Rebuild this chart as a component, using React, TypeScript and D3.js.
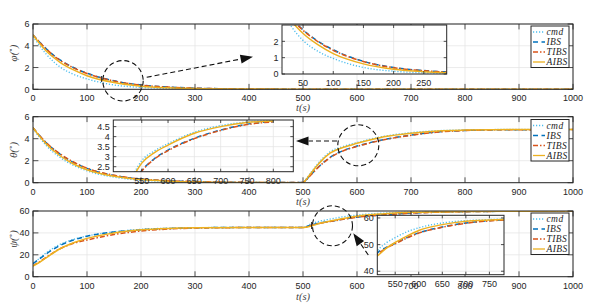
import * as d3 from 'd3';

// time samples and series
const tPhi = [0, 10, 25, 40, 50, 75, 100, 150, 200, 250, 300, 400, 500, 600, 1000];
const phiCmd = [4.85, 4.15, 3.2, 2.45, 2.05, 1.38, 0.95, 0.4, 0.17, 0.08, 0.04, 0.01, 0, 0, 0];
const phiIBS = [5, 4.45, 3.7, 3.05, 2.7, 2.0, 1.48, 0.78, 0.4, 0.21, 0.11, 0.03, 0.01, 0, 0];
const phiTIBS = [5, 4.45, 3.68, 3.02, 2.67, 1.97, 1.45, 0.76, 0.38, 0.2, 0.1, 0.03, 0.01, 0, 0];
const phiAIBS = [5, 4.35, 3.5, 2.85, 2.48, 1.78, 1.25, 0.62, 0.29, 0.14, 0.07, 0.02, 0.005, 0, 0];

const tTheta = [0, 10, 25, 50, 75, 100, 150, 200, 250, 300, 400, 500, 505, 515, 530, 550, 575, 600, 650, 700, 750, 800, 850, 900, 1000];
const thetaCmd = [4.9, 4.25, 3.35, 2.3, 1.58, 1.08, 0.5, 0.23, 0.11, 0.05, 0.01, 0, 0.28, 0.95, 1.88, 2.8, 3.3, 3.65, 4.22, 4.55, 4.73, 4.8, 4.83, 4.84, 4.84];
const thetaIBS = [5, 4.4, 3.6, 2.6, 1.85, 1.3, 0.65, 0.33, 0.18, 0.1, 0.03, 0.01, 0.22, 0.75, 1.5, 2.3, 2.92, 3.33, 3.92, 4.33, 4.62, 4.75, 4.8, 4.82, 4.83];
const thetaTIBS = [5, 4.4, 3.62, 2.63, 1.88, 1.32, 0.67, 0.34, 0.18, 0.1, 0.03, 0.01, 0.21, 0.73, 1.47, 2.27, 2.9, 3.3, 3.9, 4.31, 4.6, 4.74, 4.8, 4.82, 4.83];
const thetaAIBS = [5, 4.35, 3.5, 2.45, 1.7, 1.18, 0.58, 0.28, 0.14, 0.07, 0.02, 0.005, 0.25, 0.88, 1.78, 2.68, 3.22, 3.58, 4.17, 4.5, 4.7, 4.78, 4.82, 4.83, 4.84];

const tPsi = [0, 10, 25, 50, 75, 100, 150, 200, 250, 300, 400, 500, 505, 512, 530, 550, 575, 600, 650, 700, 750, 800, 900, 1000];
const psiCmd = [12, 16, 22, 29.5, 34, 37.2, 41, 43.3, 44.3, 44.8, 45, 45, 45.6, 47.6, 50.5, 52.6, 54.8, 56.3, 58.1, 59, 59.4, 59.7, 59.9, 60];
const psiIBS = [12, 15.5, 21, 28.5, 33.5, 37, 40.8, 42.8, 44, 44.6, 45, 45, 45.4, 46.8, 48.9, 50.5, 52.6, 54.4, 56.6, 58.1, 59, 59.4, 59.8, 60];
const psiTIBS = [10, 13, 18, 25.5, 30.5, 33.5, 38.5, 41.7, 43.5, 44.4, 44.9, 45, 45.3, 46.4, 48.6, 50.3, 52.5, 54.3, 56.5, 58, 58.9, 59.4, 59.8, 60];
const psiAIBS = [9.8, 12.5, 17.5, 25.5, 31, 35, 40, 42.8, 44.1, 44.7, 45, 45, 45.2, 45.8, 48.5, 50.8, 53.2, 55.3, 57.5, 58.8, 59.2, 59.5, 59.8, 60];

const seriesNames = ['cmd', 'IBS', 'TIBS', 'AIBS'];
const xTicksMain = [0, 100, 200, 300, 400, 500, 600, 700, 800, 900, 1000];
const yTicksAngle = [0, 2, 4, 6];
const yTicksPsi = [0, 20, 40, 60];

const colors: Record<string, string> = { cmd: '#4DBEEE', IBS: '#0072BD', TIBS: '#D95319', AIBS: '#EDB120' };
const dashes: Record<string, string | undefined> = { cmd: '1.2,1.8', IBS: '5,3.5', TIBS: '5,2,1.5,2', AIBS: undefined };

const tickFont = '"Liberation Sans", Arial, Helvetica, sans-serif';
const mathFont = '"Liberation Serif", "DejaVu Serif", serif';

type AxesProps = {
  id: string;
  x0: number; x1: number; y0: number; y1: number;
  xDomain: [number, number]; yDomain: [number, number];
  xTicks: number[]; yTicks: number[];
  t: number[]; series: number[][];
  tMax?: number;
  tick: number;
  lw: number;
};

function Axes({ id, x0, x1, y0, y1, xDomain, yDomain, xTicks, yTicks, t, series, tMax, tick, lw }: AxesProps) {
  const x = d3.scaleLinear().domain(xDomain).range([x0, x1]);
  const y = d3.scaleLinear().domain(yDomain).range([y1, y0]);
  const line = d3.line<[number, number]>()
    .x(d => x(d[0]))
    .y(d => y(d[1]))
    .curve(d3.curveMonotoneX);
  const fmt = (v: number) => String(v);
  return (
    <g>
      <defs>
        <clipPath id={id}>
          <rect x={x0} y={y0} width={x1 - x0} height={y1 - y0} />
        </clipPath>
      </defs>
      <rect x={x0} y={y0} width={x1 - x0} height={y1 - y0} fill="#fff" />
      {xTicks.map(v => (
        <line key={'gx' + v} x1={x(v)} x2={x(v)} y1={y0} y2={y1} stroke="#e2e2e2" strokeWidth={0.7} />
      ))}
      {yTicks.map(v => (
        <line key={'gy' + v} x1={x0} x2={x1} y1={y(v)} y2={y(v)} stroke="#e2e2e2" strokeWidth={0.7} />
      ))}
      <g clipPath={`url(#${id})`}>
        {series.map((s, i) => {
          const pts: [number, number][] = t.map((tv, j) => [tv, s[j]] as [number, number])
            .filter(p => tMax === undefined || p[0] <= tMax);
          const name = seriesNames[i];
          return (
            <path key={name} d={line(pts) || ''} fill="none" stroke={colors[name]}
              strokeWidth={name === 'cmd' ? lw * 0.9 : lw} strokeDasharray={dashes[name]} />
          );
        })}
      </g>
      <rect x={x0} y={y0} width={x1 - x0} height={y1 - y0} fill="none" stroke="#262626" strokeWidth={1} />
      {xTicks.map(v => (
        <g key={'tx' + v}>
          <line x1={x(v)} x2={x(v)} y1={y1} y2={y1 - tick} stroke="#262626" strokeWidth={0.8} />
          <line x1={x(v)} x2={x(v)} y1={y0} y2={y0 + tick} stroke="#262626" strokeWidth={0.8} />
          <text x={x(v)} y={y1 + 12} textAnchor="middle" fontFamily={tickFont} fontSize={9} fill="#262626">{fmt(v)}</text>
        </g>
      ))}
      {yTicks.map(v => (
        <g key={'ty' + v}>
          <line x1={x0} x2={x0 + tick} y1={y(v)} y2={y(v)} stroke="#262626" strokeWidth={0.8} />
          <line x1={x1} x2={x1 - tick} y1={y(v)} y2={y(v)} stroke="#262626" strokeWidth={0.8} />
          <text x={x0 - 3.5} y={y(v) + 3.2} textAnchor="end" fontFamily={tickFont} fontSize={9} fill="#262626">{fmt(v)}</text>
        </g>
      ))}
    </g>
  );
}

function Legend({ x, y }: { x: number; y: number }) {
  return (
    <g>
      <rect x={x} y={y} width={38} height={41.5} fill="#fff" stroke="#262626" strokeWidth={1} />
      {seriesNames.map((name, i) => {
        const cy = y + 6 + i * 10;
        return (
          <g key={name}>
            <line x1={x + 2} x2={x + 14} y1={cy} y2={cy} stroke={colors[name]} strokeWidth={1.3}
              strokeDasharray={dashes[name]} />
            <text x={x + 15.5} y={cy + 3} fontFamily={mathFont} fontStyle="italic" fontSize={9.5}
              letterSpacing={0.4} fill="#262626">{name}</text>
          </g>
        );
      })}
    </g>
  );
}

function Arrow({ from, to }: { from: [number, number]; to: [number, number] }) {
  const dx = to[0] - from[0];
  const dy = to[1] - from[1];
  const len = Math.hypot(dx, dy);
  const ux = dx / len;
  const uy = dy / len;
  const L = 12.5;
  const W = 9;
  const bx = to[0] - ux * L;
  const by = to[1] - uy * L;
  const nx = -uy;
  const ny = ux;
  const head = `${to[0]},${to[1]} ${bx + nx * W / 2},${by + ny * W / 2} ${bx - nx * W / 2},${by - ny * W / 2}`;
  return (
    <g>
      <line x1={from[0]} y1={from[1]} x2={bx} y2={by} stroke="#111" strokeWidth={1.1} strokeDasharray="5,3" />
      <polygon points={head} fill="#111" />
    </g>
  );
}

function Circle({ cx, cy, r }: { cx: number; cy: number; r: number }) {
  return <circle cx={cx} cy={cy} r={r} fill="none" stroke="#111" strokeWidth={1.1} strokeDasharray="5,3" />;
}

function YLabel({ x, y, sym }: { x: number; y: number; sym: string }) {
  return (
    <text transform={`translate(${x},${y}) rotate(-90)`} textAnchor="middle" fontFamily={mathFont}
      fontStyle="italic" fontSize={11} fill="#444">
      {sym}(<tspan fontStyle="normal" fontSize={7} dy={-4}>∘</tspan><tspan dy={4}>)</tspan>
    </text>
  );
}

function XLabel({ y }: { y: number }) {
  return (
    <text x={303} y={y} textAnchor="middle" fontFamily={mathFont} fontStyle="italic" fontSize={10.5} fill="#444">
      t(s)
    </text>
  );
}

export default function App() {
  const X0 = 33;
  const X1 = 573;
  return (
    <svg width={614} height={304} style={{ position: 'absolute', left: 0, top: 0, background: '#fff' }}>
      {/* phi */}
      <Axes id="c1" x0={X0} x1={X1} y0={24} y1={89.3} xDomain={[0, 1000]} yDomain={[0, 6]}
        xTicks={xTicksMain} yTicks={yTicksAngle} t={tPhi}
        series={[phiCmd, phiIBS, phiTIBS, phiAIBS]} tick={5.4} lw={1.5} />
      <YLabel x={17} y={53} sym="φ" />
      <XLabel y={111} />
      <Axes id="i1" x0={282} x1={446.7} y0={25} y1={74} xDomain={[15, 288]} yDomain={[0, 3]}
        xTicks={[50, 100, 150, 200, 250]} yTicks={[0, 1, 2]} t={tPhi}
        series={[phiCmd, phiIBS, phiTIBS, phiAIBS]} tick={3} lw={1.5} />
      <Legend x={531} y={26} />
      <Circle cx={123} cy={80.8} r={20.2} />
      <Arrow from={[146.7, 77.3]} to={[253, 56.7]} />
      <line x1={101.7} x2={101.7} y1={76} y2={82} stroke="#111" strokeWidth={1} />

      {/* theta */}
      <Axes id="c2" x0={X0} x1={X1} y0={116.7} y1={182.7} xDomain={[0, 1000]} yDomain={[0, 6]}
        xTicks={xTicksMain} yTicks={yTicksAngle} t={tTheta}
        series={[thetaCmd, thetaIBS, thetaTIBS, thetaAIBS]} tick={5.4} lw={1.5} />
      <YLabel x={17} y={150} sym="θ" />
      <XLabel y={205} />
      <Axes id="i2" x0={113.3} x1={293.3} y0={120} y1={171.7} xDomain={[496, 838]} yDomain={[2.25, 4.83]}
        xTicks={[550, 600, 650, 700, 750, 800]} yTicks={[2.5, 3, 3.5, 4, 4.5]} t={tTheta}
        series={[thetaCmd, thetaIBS, thetaTIBS, thetaAIBS]} tMax={810} tick={3} lw={1.5} />
      <Legend x={531} y={119.5} />
      <Circle cx={358.3} cy={145.3} r={20.5} />
      <Arrow from={[337, 141]} to={[296, 141]} />

      {/* psi */}
      <Axes id="c3" x0={X0} x1={X1} y0={211} y1={276.7} xDomain={[0, 1000]} yDomain={[0, 60]}
        xTicks={xTicksMain} yTicks={yTicksPsi} t={tPsi}
        series={[psiCmd, psiIBS, psiTIBS, psiAIBS]} tick={5.4} lw={1.5} />
      <YLabel x={17} y={239} sym="ψ" />
      <XLabel y={300} />
      <Axes id="i3" x0={377.3} x1={504} y0={215.3} y1={274.7} xDomain={[512, 781]} yDomain={[38.7, 61]}
        xTicks={[550, 600, 650, 700, 750]} yTicks={[40, 50, 60]} t={tPsi}
        series={[psiCmd, psiIBS, psiTIBS, psiAIBS]} tick={3} lw={1.5} />
      <Legend x={531} y={213} />
      <Circle cx={332.5} cy={225.8} r={20} />
      <Arrow from={[368.3, 255]} to={[353.3, 233.3]} />
      <line x1={311.7} x2={311.7} y1={222} y2={229} stroke="#111" strokeWidth={1} />
    </svg>
  );
}
